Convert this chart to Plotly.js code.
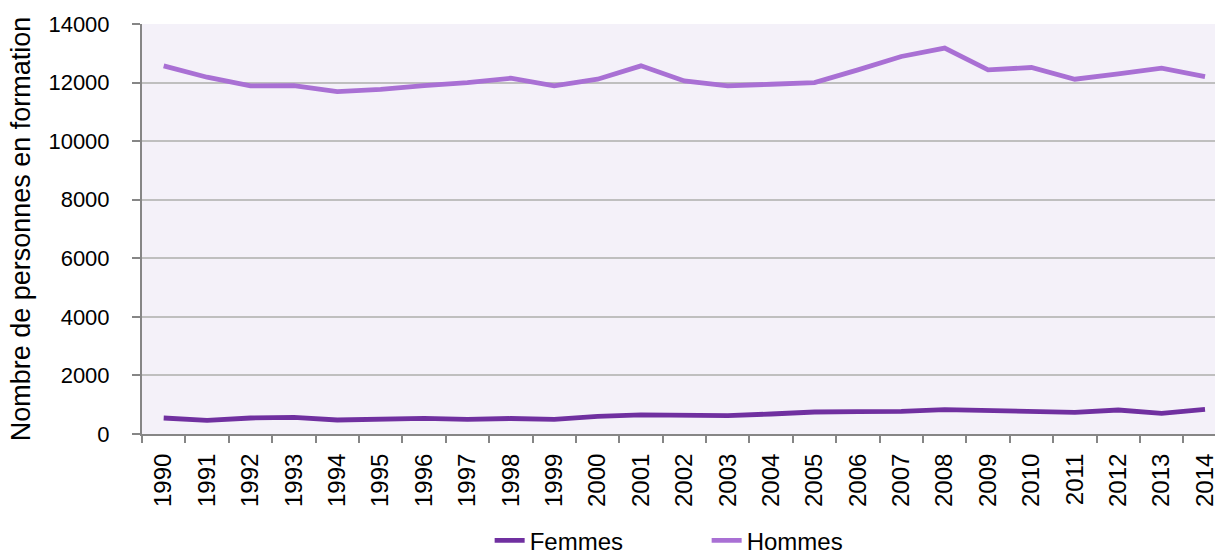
<!DOCTYPE html>
<html>
<head>
<meta charset="utf-8">
<script src="https://cdn.plot.ly/plotly-3.0.1.min.js"></script>
<style>html,body{margin:0;padding:0;background:#fff;}#chart{width:1215px;height:554px;}</style>
</head>
<body>
<div id="chart"></div>
<script>
const years = ["1990","1991","1992","1993","1994","1995","1996","1997","1998","1999","2000","2001","2002","2003","2004","2005","2006","2007","2008","2009","2010","2011","2012","2013","2014"];
const femmes = [547,467,547,570,478,512,535,500,530,500,604,650,638,626,683,752,763,774,831,809,786,740,820,706,843];
const hommes = [12571,12183,11886,11897,11691,11771,11897,12000,12149,11886,12114,12571,12057,11886,11943,12000,12434,12891,13177,12434,12514,12114,12297,12491,12206];
const yTicks = [0,2000,4000,6000,8000,10000,12000,14000];

const font = "Liberation Sans, Arial, sans-serif";
const traces = [
  {x: years, y: femmes, name: "Femmes", type: "scatter", mode: "lines",
   line: {color: "#7030A0", width: 4.8}},
  {x: years, y: hommes, name: "Hommes", type: "scatter", mode: "lines",
   line: {color: "#A970D4", width: 4.8}}
];
const layout = {
  width: 1215, height: 554,
  margin: {l: 142, r: 0, t: 24, b: 120, autoexpand: false},
  paper_bgcolor: "#ffffff",
  plot_bgcolor: "#F4F1F9",
  font: {family: font, size: 22, color: "#000"},
  showlegend: true,
  legend: {orientation: "h", xref: "container", yref: "container",
           x: 0.403, xanchor: "left", y: 0.024, yanchor: "middle",
           font: {size: 24, color: "#000"}, entrywidth: 172, entrywidthmode: "pixels",
           bgcolor: "rgba(0,0,0,0)"},
  xaxis: {type: "category", range: [-0.5, 24.23], tickangle: -90, showgrid: false,
          showline: true, linecolor: "#868686", linewidth: 2,
          ticks: "outside", ticklen: 7, tickcolor: "#868686", tickwidth: 2,
          tickson: "boundaries", tickfont: {size: 24}, zeroline: false,
          ticklabelstandoff: 8, automargin: false},
  yaxis: {range: [0, 14000], tickvals: yTicks, ticktext: yTicks.map(String),
          showgrid: true, gridcolor: "#BFBFBF", gridwidth: 2,
          showline: true, linecolor: "#868686", linewidth: 2,
          ticks: "outside", ticklen: 8, tickcolor: "#868686", tickwidth: 2,
          zeroline: false, tickfont: {size: 22}, ticklabelstandoff: 18, automargin: false,
          title: {text: "Nombre de personnes en formation", font: {size: 27}, standoff: 10}}
};
Plotly.newPlot("chart", traces, layout, {displayModeBar: false, staticPlot: true});
</script>
</body>
</html>
